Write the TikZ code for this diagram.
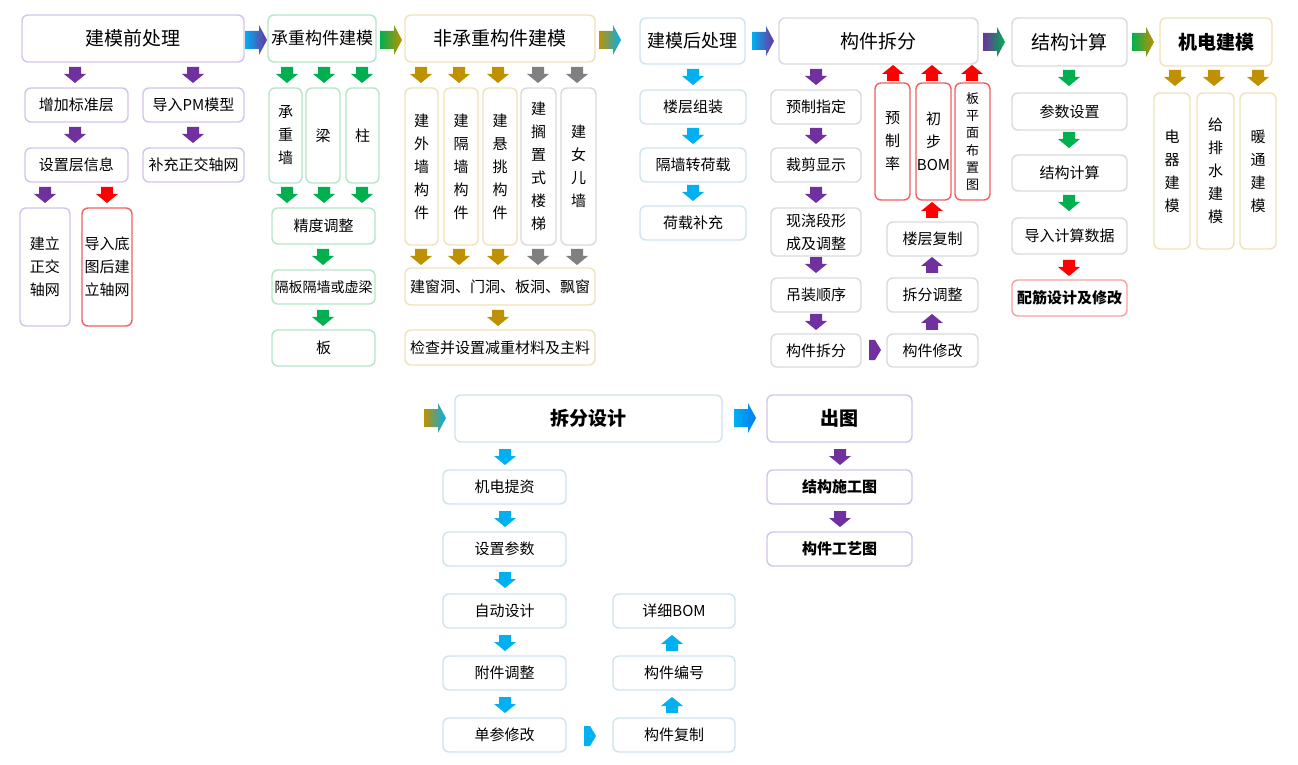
\documentclass[tikz,border=0pt]{standalone}
\usepackage{fontspec}
\setmainfont{Noto Sans CJK SC}
\begin{document}
\begin{tikzpicture}[x=0.5pt,y=-0.5pt,
  box/.style={draw=#1,line width=0.7pt,rounded corners=3pt,inner sep=0pt,align=center,font=\fontsize{7.5}{11.5}\selectfont,fill=white},
  pics/darr/.style={code={\fill[#1] (-6,-8)--(6,-8)--(6,-1)--(11,-1)--(0,8)--(-11,-1)--(-6,-1)--cycle;}},
  pics/uarr/.style={code={\fill[#1] (-6,8)--(6,8)--(6,1)--(11,1)--(0,-8)--(-11,1)--(-6,1)--cycle;}},
  pics/sarr/.style={code={\fill[#1] (-6,-10)--(0,-10)--(6,0)--(0,10)--(-6,10)--cycle;}},
  pics/rarr/.style 2 args={code={\shade[left color=#1,right color=#2] (-11,-9)--(3,-9)--(3,-15)--(11,0)--(3,15)--(3,9)--(-11,9)--cycle;}}]
\definecolor{cp}{HTML}{7030A0}\definecolor{cg}{HTML}{00B050}\definecolor{cy}{HTML}{BF9000}
\definecolor{ca}{HTML}{808080}\definecolor{cr}{HTML}{FF0000}\definecolor{cb}{HTML}{00B0F0}
\definecolor{bp}{HTML}{D5C4EA}\definecolor{bg}{HTML}{B5E6C8}\definecolor{by}{HTML}{F0E2B8}
\definecolor{bb}{HTML}{CFE3EC}\definecolor{br}{HTML}{F06060}\definecolor{bz}{HTML}{DADADA}
\useasboundingbox (0,0) rectangle (1298,765);
\newcommand\bx[7]{\node[box=#6,minimum width={(#4-#2)*0.5pt},minimum height={(#5-#3)*0.5pt}] (#1) at ({(#2+#4)/2},{(#3+#5)/2}) {#7};}
\newcommand\tf{\fontsize{9.5}{12}\selectfont}
\newcommand\vf{\fontsize{7.5}{10}\selectfont}
% ---- row 1 headers
\bx{h1}{22}{15}{244}{62}{bp}{\tf 建模前处理}
\bx{h2}{268}{15}{376}{62}{bg}{\fontsize{8.5}{12}\selectfont 承重构件建模}
\bx{h3}{405}{15}{595}{62}{by}{\tf 非承重构件建模}
\bx{h4}{640}{18}{745}{64}{bb}{\fontsize{9}{12}\selectfont 建模后处理}
\bx{h5}{779}{18}{978}{64}{bz}{\tf 构件拆分}
\bx{h6}{1012}{18}{1127}{66}{bz}{\tf 结构计算}
\bx{h7}{1160}{18}{1272}{66}{by}{\tf\bfseries 机电建模}
\pic at (256,40) {rarr={cb}{cp}};
\pic at (391,40) {rarr={cg}{cy}};
\pic at (610,40) {rarr={cy}{cb}};
\pic at (763,41) {rarr={cb}{cp}};
\pic at (994,42) {rarr={cp}{cg}};
\pic at (1143,42) {rarr={cg}{cy}};
% ---- col 1
\pic at (75,75) {darr=cp}; \pic at (193,75) {darr=cp};
\bx{a1}{25}{88}{128}{122}{bp}{增加标准层}
\bx{a2}{143}{88}{244}{122}{bp}{导入PM模型}
\pic at (75,135) {darr=cp}; \pic at (193,135) {darr=cp};
\bx{a3}{25}{148}{128}{182}{bp}{设置层信息}
\bx{a4}{143}{148}{244}{182}{bp}{补充正交轴网}
\pic at (45,195) {darr=cp}; \pic at (107,195) {darr=cr};
\bx{a5}{20}{208}{70}{326}{bp}{建立\\正交\\轴网}
\bx{a6}{82}{208}{132}{326}{br}{导入底\\图后建\\立轴网}
% ---- col 2
\foreach \x in {287,324,362}{\pic at (\x,75) {darr=cg}; \pic at (\x,195) {darr=cg};}
\bx{b1}{269}{88}{302}{183}{bg}{\vf 承\\重\\墙}
\bx{b2}{306}{88}{340}{183}{bg}{梁}
\bx{b3}{346}{88}{379}{183}{bg}{柱}
\bx{b4}{272}{208}{375}{244}{bg}{精度调整}
\pic at (323,257) {darr=cg};
\bx{b5}{272}{270}{375}{304}{bg}{\fontsize{7}{10}\selectfont 隔板隔墙或虚梁}
\pic at (323,318) {darr=cg};
\bx{b6}{272}{330}{375}{366}{bg}{板}
% ---- col 3
\foreach \x/\c in {421/cy,459/cy,498/cy,538/ca,577/ca}{\pic at (\x,75) {darr=\c}; \pic at (\x,257) {darr=\c};}
\bx{c1}{405}{88}{438}{245}{by}{\vf 建\\外\\墙\\构\\件}
\bx{c2}{444}{88}{478}{245}{by}{\vf 建\\隔\\墙\\构\\件}
\bx{c3}{483}{88}{517}{245}{by}{\vf 建\\悬\\挑\\构\\件}
\bx{c4}{521}{88}{556}{245}{bz}{\vf 建\\搁\\置\\式\\楼\\梯}
\bx{c5}{561}{88}{596}{245}{bz}{\vf 建\\女\\儿\\墙}
\bx{c6}{405}{268}{595}{305}{by}{建窗洞、门洞、板洞、飘窗}
\pic at (498,318) {darr=cy};
\bx{c7}{405}{330}{595}{365}{by}{检查并设置减重材料及主料}
% ---- col 4
\foreach \y in {77,136,193}{\pic at (693,\y) {darr=cb};}
\bx{d1}{640}{90}{746}{124}{bb}{楼层组装}
\bx{d2}{640}{148}{746}{182}{bb}{隔墙转荷载}
\bx{d3}{640}{206}{746}{240}{bb}{荷载补充}
% ---- col 5
\foreach \y in {77,136,195,265,322}{\pic at (816,\y) {darr=cp};}
\bx{e1}{771}{90}{861}{124}{bz}{预制指定}
\bx{e2}{771}{148}{861}{182}{bz}{裁剪显示}
\bx{e3}{771}{208}{861}{256}{bz}{现浇段形\\成及调整}
\bx{e4}{771}{278}{861}{312}{bz}{吊装顺序}
\bx{e5}{771}{334}{861}{367}{bz}{构件拆分}
\pic at (875,350) {sarr=cp};
\bx{f1}{887}{334}{978}{367}{bz}{构件修改}
\bx{f2}{887}{278}{978}{312}{bz}{拆分调整}
\bx{f3}{887}{222}{978}{256}{bz}{楼层复制}
\pic at (932,322) {uarr=cp}; \pic at (932,265) {uarr=cp}; \pic at (932,210) {uarr=cr};
\bx{g1}{875}{83}{910}{200}{br}{\vf 预\\制\\率}
\bx{g2}{916}{83}{951}{200}{br}{\vf 初\\步\\BOM}
\node[box=br,font=\fontsize{6.5}{8.6}\selectfont,minimum width=17.5pt,minimum height=58.5pt] (g3) at (972.5,141.5) {板\\平\\面\\布\\置\\图};
\foreach \x in {893,932,972}{\pic at (\x,73) {uarr=cr};}
% ---- col 6
\foreach \y in {78,140,203}{\pic at (1069,\y) {darr=cg};}
\pic at (1069,268) {darr=cr};
\bx{k1}{1012}{93}{1127}{130}{bz}{参数设置}
\bx{k2}{1012}{155}{1127}{191}{bz}{结构计算}
\bx{k3}{1012}{218}{1127}{254}{bz}{导入计算数据}
\bx{k4}{1012}{280}{1127}{316}{br!60}{\bfseries 配筋设计及修改}
% ---- col 7
\foreach \x in {1175,1214,1258}{\pic at (\x,78) {darr=cy};}
\bx{m1}{1154}{93}{1190}{249}{by}{\vf 电\\器\\建\\模}
\bx{m2}{1197}{93}{1234}{249}{by}{\vf 给\\排\\水\\建\\模}
\bx{m3}{1240}{93}{1276}{249}{by}{\vf 暖\\通\\建\\模}
% ---- row 2
\pic at (435,418) {rarr={cy}{cb}};
\bx{r1}{455}{395}{722}{442}{bb}{\tf\bfseries 拆分设计}
\pic at (745,418) {rarr={cb}{cb!70!blue}};
\bx{r2}{767}{395}{912}{442}{bp}{\tf\bfseries 出图}
\foreach \y in {457,519,580,643,705}{\pic at (505,\y) {darr=cb};}
\bx{s1}{443}{470}{566}{504}{bb}{机电提资}
\bx{s2}{443}{532}{566}{566}{bb}{设置参数}
\bx{s3}{443}{594}{566}{628}{bb}{自动设计}
\bx{s4}{443}{656}{566}{690}{bb}{附件调整}
\bx{s5}{443}{718}{566}{752}{bb}{单参修改}
\pic at (590,736) {sarr=cb};
\bx{t1}{613}{718}{735}{752}{bb}{构件复制}
\bx{t2}{613}{656}{735}{690}{bb}{构件编号}
\bx{t3}{613}{594}{735}{628}{bb}{详细BOM}
\pic at (672,705) {uarr=cb}; \pic at (672,643) {uarr=cb};
\pic at (840,457) {darr=cp}; \pic at (840,519) {darr=cp};
\bx{u1}{767}{470}{912}{504}{bp}{\bfseries 结构施工图}
\bx{u2}{767}{532}{912}{566}{bp}{\bfseries 构件工艺图}
\end{tikzpicture}
\end{document}
